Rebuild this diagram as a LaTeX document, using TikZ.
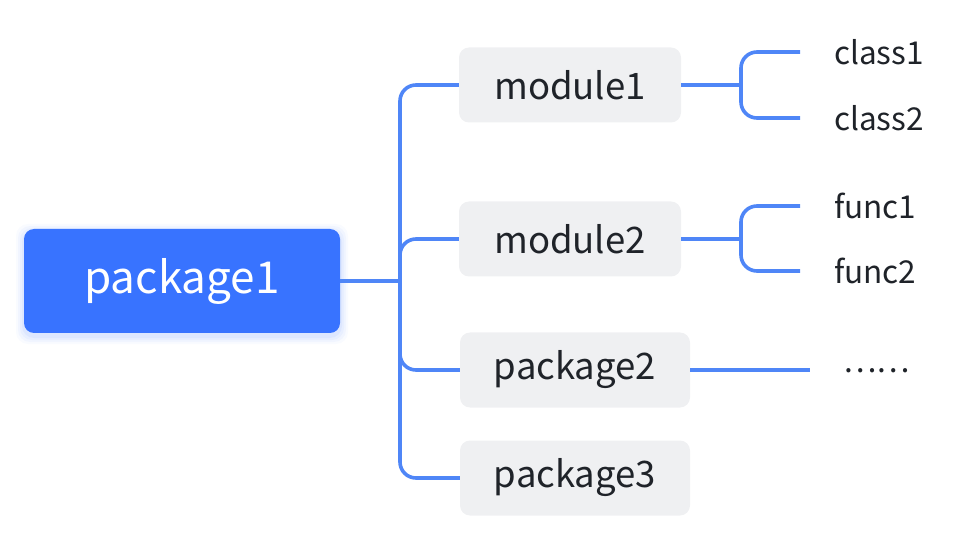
\documentclass[tikz,border=0pt]{standalone}
\usepackage{fontspec}
\setmainfont{Noto Sans CJK SC}
\usetikzlibrary{calc}
\definecolor{rootblue}{HTML}{3873FF}
\definecolor{linkblue}{HTML}{4F86F7}
\definecolor{boxgray}{HTML}{EFF0F2}
\definecolor{txt}{HTML}{1F2329}
\begin{document}
\begin{tikzpicture}[x=1pt,y=-1pt,
  rootbox/.style={draw=none,fill=rootblue,rounded corners=10pt,minimum width=316pt,minimum height=104pt,text=white,font=\fontsize{44}{50}\selectfont,inner sep=0pt},
  midbox/.style={draw=none,fill=boxgray,rounded corners=10pt,minimum height=75pt,text=txt,font=\fontsize{36.5}{42}\selectfont,inner sep=0pt},
  leaf/.style={anchor=west,inner sep=0pt,text=txt,font=\fontsize{31.5}{36}\selectfont},
  link/.style={draw=linkblue,line width=3.6pt,rounded corners=16pt}]
\useasboundingbox (0,0) rectangle (978,540);
% shadow of root
\foreach \i/\o in {8/0.03,6/0.04,4/0.05,2/0.06}{
  \fill[rootblue,opacity=\o,rounded corners=12pt] (24-\i,229-\i+3) rectangle (340+\i,333+\i+3);
}
\node[rootbox] (root) at (182,281) {package1};
\node[midbox,minimum width=222pt] (m1) at (570,85) {module1};
\node[midbox,minimum width=222pt] (m2) at (570,239) {module2};
\node[midbox,minimum width=230pt] (p2) at (575,370) {package2};
\node[midbox,minimum width=230pt] (p3) at (575,478) {package3};
\node[leaf] (c1) at (834,52) {class1};
\node[leaf] (c2) at (834,118) {class2};
\node[leaf] (f1) at (834,206) {func1};
\node[leaf] (f2) at (834,271) {func2};
\node[leaf] (dots) at (843,371) {……};
\coordinate (j0) at (400,281);
\coordinate (j1) at (741,85);
\coordinate (j2) at (741,239);
\coordinate (dend) at (810,370);
\draw[link] (root.east) -- (j0);
\draw[link] (j0) |- (m1.west);
\draw[link] (j0) |- (m2.west);
\draw[link] (j0) |- (p2.west);
\draw[link] (j0) |- (p3.west);
\draw[link] (m1.east) -- (j1);
\draw[link] (j1) |- ([xshift=-34pt]c1.west);
\draw[link] (j1) |- ([xshift=-34pt]c2.west);
\draw[link] (m2.east) -- (j2);
\draw[link] (j2) |- ([xshift=-34pt]f1.west);
\draw[link] (j2) |- ([xshift=-34pt]f2.west);
\draw[link] (p2.east) -- (dend);
\end{tikzpicture}
\end{document}
